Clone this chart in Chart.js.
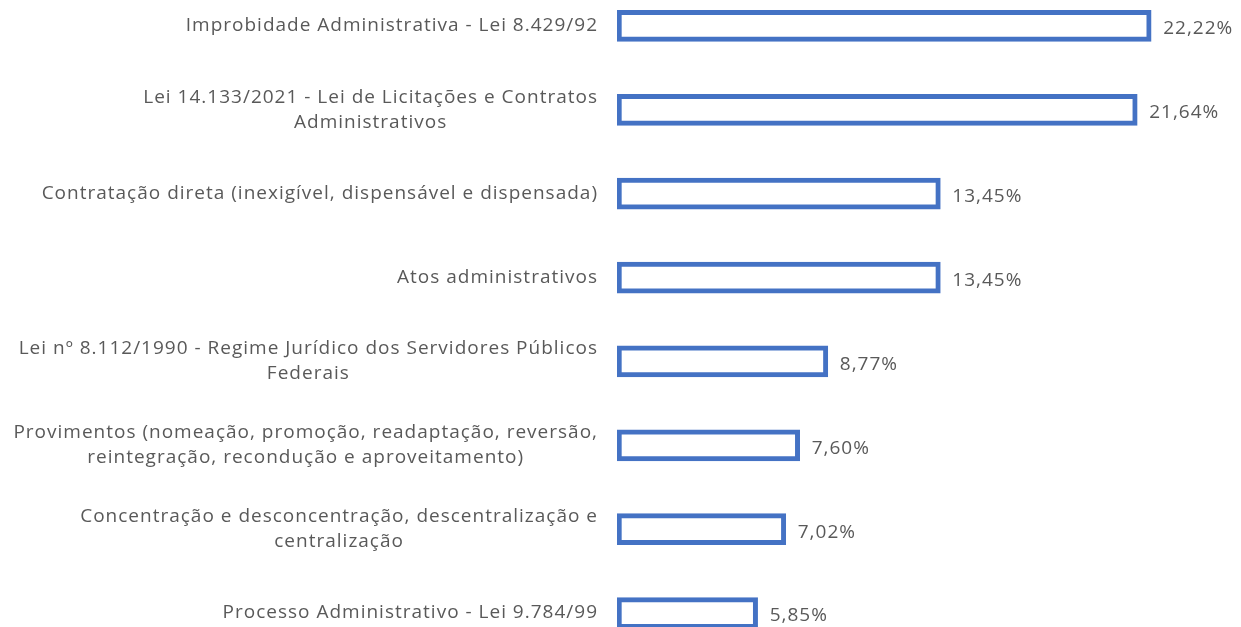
<!DOCTYPE html>
<html>
<head>
<meta charset="utf-8">
<script src="https://cdn.jsdelivr.net/npm/chart.js@4"></script>
<style>
    html, body { margin: 0; padding: 0; background: #fff; overflow: hidden; }
    #wrap { position: absolute; left: 0; top: -16px; width: 1241px; height: 671px; }
</style>
</head>
<body>
<div id="wrap"><canvas id="myChart"></canvas></div>
<script>
const categories = [
    ['Improbidade Administrativa - Lei 8.429/92'],
    ['Lei 14.133/2021 - Lei de Licitações e Contratos', 'Administrativos'],
    ['Contratação direta (inexigível, dispensável e dispensada)'],
    ['Atos administrativos'],
    ['Lei nº 8.112/1990 - Regime Jurídico dos Servidores Públicos', 'Federais'],
    ['Provimentos (nomeação, promoção, readaptação, reversão,', 'reintegração, recondução e aproveitamento)'],
    ['Concentração e desconcentração, descentralização e', 'centralização'],
    ['Processo Administrativo - Lei 9.784/99']
];
const values = [22.22, 21.64, 13.45, 13.45, 8.77, 7.60, 7.02, 5.85];

const textFont = '19px "Open Sans"';
const textColor = '#595959';

// draws the wrapped category labels (right aligned block, lines centered) and the value labels
const labelPlugin = {
    id: 'labelPlugin',
    afterDatasetsDraw(chart) {
        const ctx = chart.ctx;
        const yScale = chart.scales.y;
        const meta = chart.getDatasetMeta(0);
        ctx.save();
        ctx.font = textFont;
        ctx.letterSpacing = '1px';
        ctx.fillStyle = textColor;
        ctx.textBaseline = 'middle';
        ctx.textAlign = 'center';
        const right = 598;
        const lineH = 25;
        categories.forEach((lines, i) => {
            const yc = yScale.getPixelForValue(i);
            let w = 0;
            lines.forEach(l => { w = Math.max(w, ctx.measureText(l).width); });
            const cx = right - w / 2;
            const y0 = yc - (lines.length - 1) * lineH / 2;
            lines.forEach((l, k) => ctx.fillText(l, cx, y0 + k * lineH));
        });
        ctx.textAlign = 'left';
        meta.data.forEach((bar, i) => {
            const txt = values[i].toFixed(2).replace('.', ',') + '%';
            ctx.fillText(txt, bar.x + 12, bar.y + 3);
        });
        ctx.restore();
    }
};

new Chart(document.getElementById('myChart'), {
    type: 'bar',
    data: {
        labels: categories,
        datasets: [{
            data: values,
            backgroundColor: '#ffffff',
            borderColor: '#4472C4',
            borderWidth: 5,
            borderSkipped: false,
            barThickness: 31
        }]
    },
    options: {
        indexAxis: 'y',
        responsive: true,
        maintainAspectRatio: false,
        animation: false,
        layout: { padding: { left: 0, right: 23, top: 0, bottom: 0 } },
        plugins: {
            legend: { display: false },
            tooltip: { enabled: false }
        },
        scales: {
            x: {
                display: false,
                min: 0,
                max: 25
            },
            y: {
                ticks: { display: false },
                grid: { display: false },
                border: { display: false },
                afterFit(scale) { scale.width = 617; }
            }
        }
    },
    plugins: [labelPlugin]
});
</script>
</body>
</html>
